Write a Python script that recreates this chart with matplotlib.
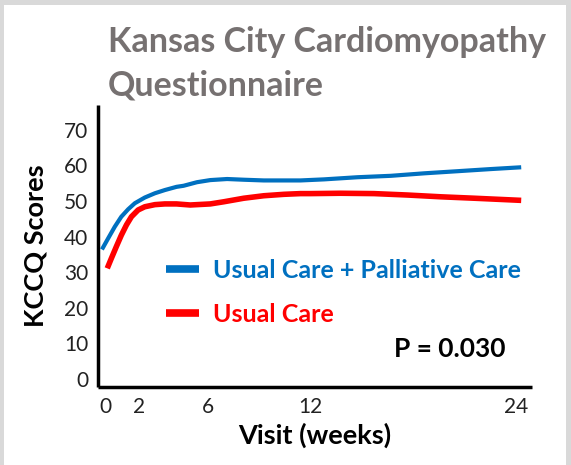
import matplotlib
matplotlib.use("Agg")
import matplotlib.pyplot as plt
from matplotlib.patches import Rectangle

# values
weeks_pc = [-0.18, 0.18, 0.57, 0.95, 1.35, 1.74, 2.32, 2.91, 3.49, 4.17, 4.58, 5.36, 6.14,
            7.12, 8.09, 9.26, 10.43, 11.4, 12.77, 14.72, 16.67, 18.61, 20.57, 22.51, 24.27]
kccq_pc = [36.4, 39.5, 42.8, 45.6, 47.7, 49.4, 51.0, 52.2, 53.1, 54.0, 54.3, 55.3, 55.9,
           56.2, 56.0, 55.8, 55.8, 55.8, 56.1, 56.7, 57.1, 57.8, 58.4, 59.0, 59.5]

weeks_uc = [0.13, 0.37, 0.66, 0.95, 1.25, 1.54, 1.93, 2.32, 2.91, 3.49, 4.17, 4.97, 6.14,
            6.92, 8.09, 9.26, 10.43, 11.4, 11.99, 13.74, 15.69, 17.64, 19.59, 21.54, 24.27]
kccq_uc = [31.1, 33.9, 37.2, 40.4, 43.3, 45.6, 47.5, 48.4, 49.0, 49.2, 49.2, 48.9, 49.2,
           49.8, 50.8, 51.5, 51.9, 52.1, 52.1, 52.2, 52.1, 51.7, 51.2, 50.8, 50.2]

x_ticks = [0, 2, 6, 12, 24]
y_ticks = [0, 10, 20, 30, 40, 50, 60, 70]

BLUE = "#0070C0"
RED = "#FF0000"
TITLE_GRAY = "#767171"
FONT = ["Lato", "DejaVu Sans"]

plt.rcParams["font.family"] = FONT

fig = plt.figure(figsize=(5.71, 4.65), dpi=100, facecolor="#d9d9d9")
fig.patches.append(Rectangle((4 / 571, 0), 562 / 571, 1 - 5 / 465,
                             transform=fig.transFigure, facecolor="white",
                             edgecolor="none", zorder=-1))

ax = fig.add_axes([0.1716, 0.1677, 0.7601, 0.6065])
ax.set_facecolor("none")
ax.set_zorder(2)

ax.plot(weeks_pc, kccq_pc, color=BLUE, lw=3.0, solid_capstyle="butt",
        solid_joinstyle="round", label="Usual Care + Palliative Care", zorder=3)
ax.plot(weeks_uc, kccq_uc, color=RED, lw=4.0, solid_capstyle="butt",
        solid_joinstyle="round", label="Usual Care", zorder=2)

ax.set_xlim(-0.41, 24.9)
ax.set_ylim(-2.25, 77)
ax.set_xticks(x_ticks)
ax.set_yticks(y_ticks)
ax.tick_params(length=0, labelsize=15, labelcolor="#222222", pad=7)

for side in ["top", "right"]:
    ax.spines[side].set_visible(False)
for side in ["left", "bottom"]:
    ax.spines[side].set_linewidth(2.5)
    ax.spines[side].set_color("black")
    ax.spines[side].set_capstyle("butt")

ax.set_xlabel("Visit (weeks)", fontsize=19.5, fontweight="bold", labelpad=4)
ax.set_ylabel("KCCQ Scores", fontsize=19.5, fontweight="bold", labelpad=12)

leg = ax.legend(loc="upper left", bbox_to_anchor=(0.133, 0.49), frameon=False,
                handlelength=1.35, handletextpad=0.55, labelspacing=0.83,
                borderaxespad=0,
                prop={"family": FONT, "weight": "bold", "size": 18},
                labelcolor="linecolor")
for line in leg.get_lines():
    line.set_linewidth(5.5)

ax.text(0.938, 0.135, "P = 0.030", transform=ax.transAxes, ha="right", va="center",
        fontsize=19, fontweight="bold", color="black")

fig.text(108 / 571, 1 - 26 / 465, "Kansas City Cardiomyopathy\nQuestionnaire",
         ha="left", va="top", fontsize=24.5, fontweight="bold", color=TITLE_GRAY,
         linespacing=1.45)

fig.savefig("out.png", dpi=100, facecolor=fig.get_facecolor())
